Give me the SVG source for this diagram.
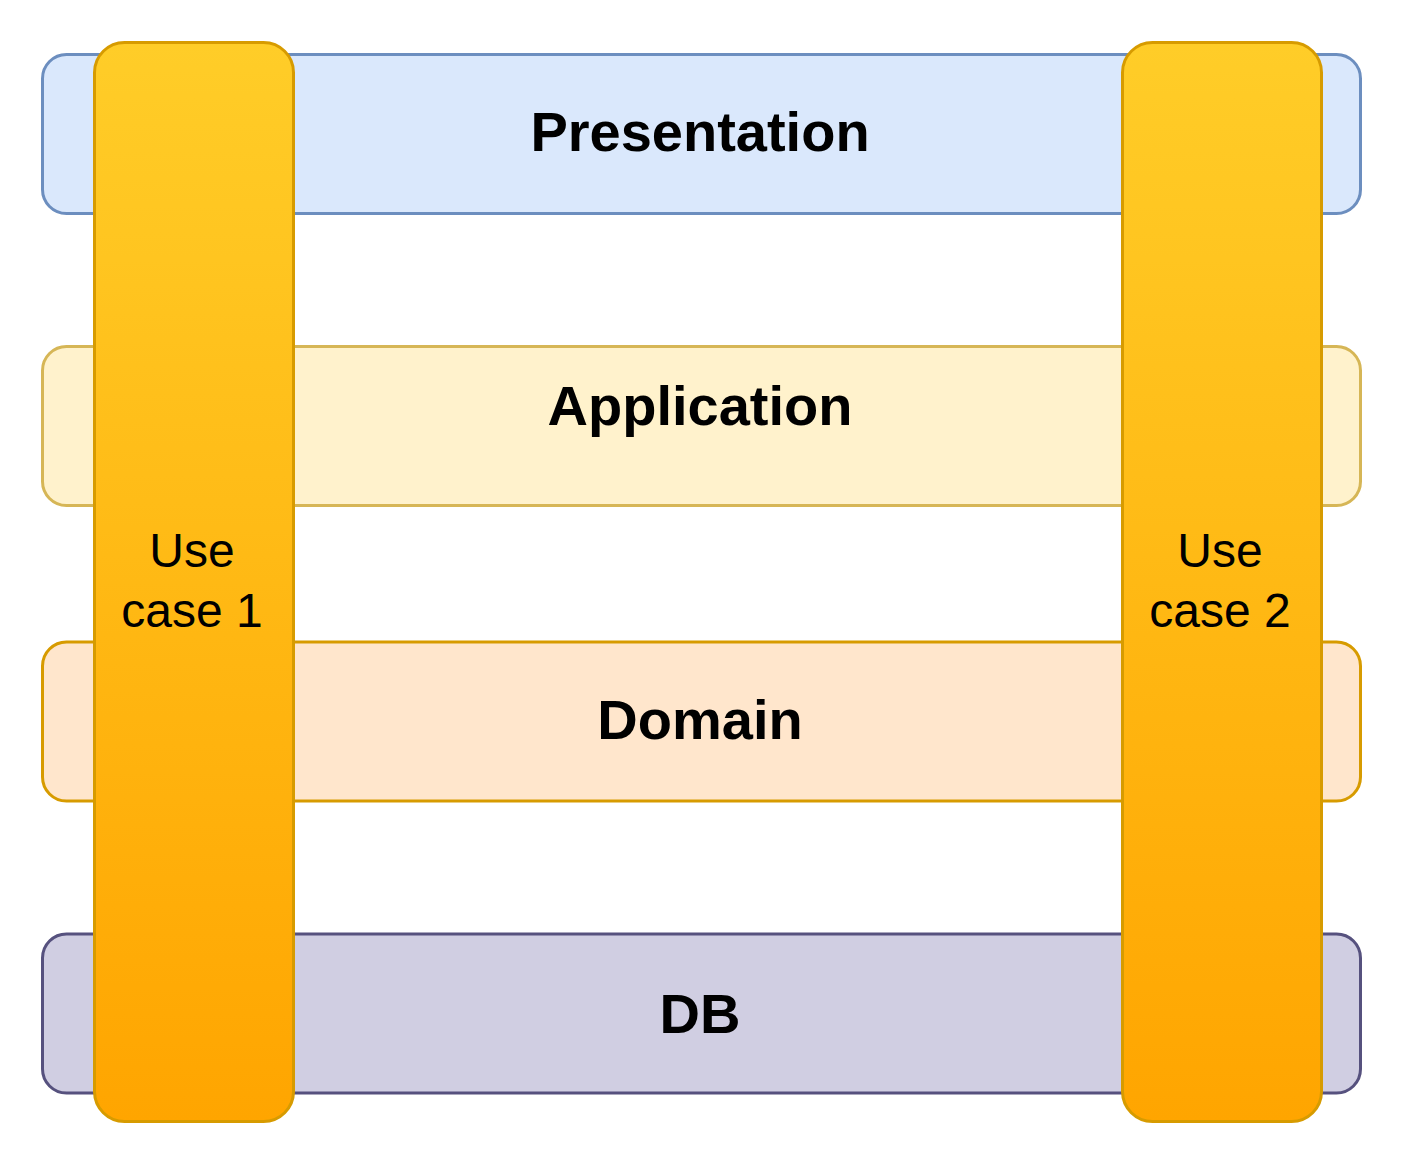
<svg xmlns="http://www.w3.org/2000/svg" width="1404" height="1164" viewBox="0 0 1404 1164">
<style>
.layer{stroke-width:3}
.lt{font-family:"Liberation Sans",Arial,sans-serif;font-weight:bold;font-size:56px;fill:#000;text-anchor:middle}
.ut{font-family:"Liberation Sans",Arial,sans-serif;font-size:48px;fill:#000;text-anchor:middle}
.uc{fill:url(#g);stroke:#d79b00;stroke-width:3}
</style>
<defs>
<linearGradient id="g" x1="0" y1="0" x2="0" y2="1">
<stop offset="0" stop-color="#ffcd28"/>
<stop offset="1" stop-color="#ffa500"/>
</linearGradient>
</defs>
<rect width="1404" height="1164" fill="#ffffff"/>
<g id="presentation">
<rect class="layer" x="42.5" y="54.5" width="1318" height="159" rx="24" fill="#dae8fc" stroke="#6c8ebf"/>
<text class="lt" x="700" y="151">Presentation</text>
</g>
<g id="application">
<rect class="layer" x="42.5" y="346.5" width="1318" height="159" rx="24" fill="#fff2cc" stroke="#d6b656"/>
<text class="lt" x="700" y="425">Application</text>
</g>
<g id="domain">
<rect class="layer" x="42.5" y="642" width="1318" height="159" rx="24" fill="#ffe6cc" stroke="#d79b00"/>
<text class="lt" x="700" y="739">Domain</text>
</g>
<g id="db">
<rect class="layer" x="42.5" y="934" width="1318" height="159" rx="24" fill="#d0cee2" stroke="#56517e"/>
<text class="lt" x="700" y="1033">DB</text>
</g>
<g id="usecase1">
<rect class="uc" x="94.5" y="42.5" width="199" height="1079" rx="30"/>
<text class="ut" x="192" y="567">Use</text>
<text class="ut" x="192" y="627">case 1</text>
</g>
<g id="usecase2">
<rect class="uc" x="1122.5" y="42.5" width="199" height="1079" rx="30"/>
<text class="ut" x="1220" y="567">Use</text>
<text class="ut" x="1220" y="627">case 2</text>
</g>
<g id="connectors"/>
</svg>
